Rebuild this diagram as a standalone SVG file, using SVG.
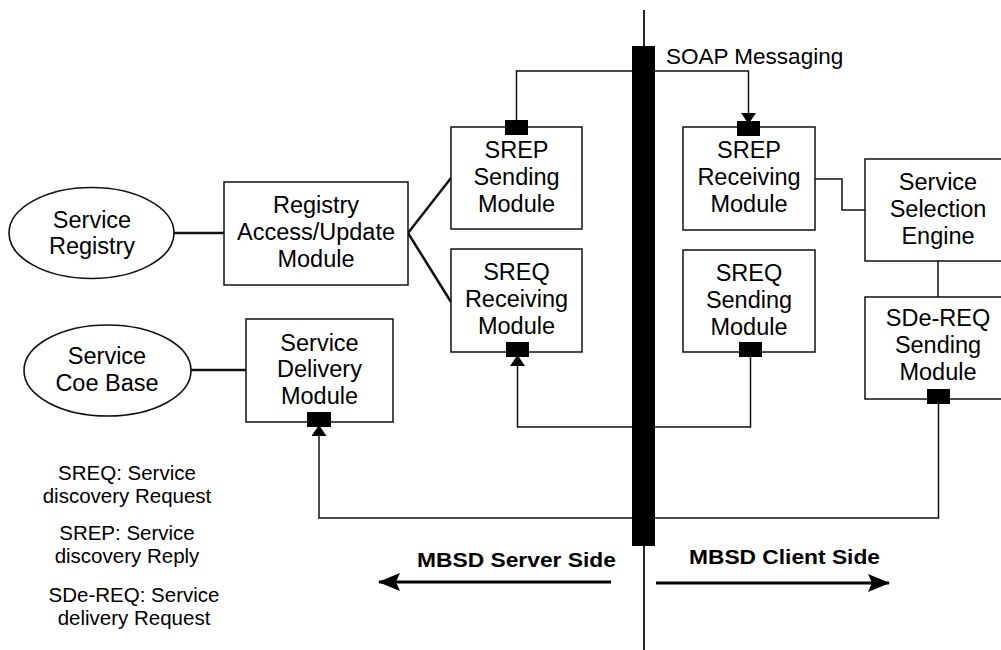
<svg xmlns="http://www.w3.org/2000/svg" width="1001" height="650" viewBox="0 0 1001 650">
  <style>
    .box { fill: #ffffff; stroke: #111; stroke-width: 1.5; }
    .oval { fill: #ffffff; stroke: #111; stroke-width: 1.6; }
    .port { fill: #000; }
    .wire { fill: none; stroke: #111; stroke-width: 1.5; }
    .link { fill: none; stroke: #111; stroke-width: 2.5; }
    .side { fill: none; stroke: #000; stroke-width: 3; }
    text { font-family: "Liberation Sans", Arial, sans-serif; fill: #000; }
    .lbl { font-size: 23.5px; text-anchor: middle; }
    .note { font-size: 20.5px; text-anchor: middle; }
    .bold { font-size: 21px; font-weight: bold; }
  </style>
  <defs>
    <marker id="tip" markerUnits="userSpaceOnUse" viewBox="0 0 11 15" markerWidth="11" markerHeight="15" refX="10" refY="7.5" orient="auto">
      <path d="M0,0 L11,7.5 L0,15 z" fill="#000"/>
    </marker>
    <marker id="bigtip" markerUnits="userSpaceOnUse" viewBox="0 0 22 18" markerWidth="22" markerHeight="18" refX="21" refY="9" orient="auto">
      <path d="M0,0 L22,9 L0,18 L4,9 z" fill="#000"/>
    </marker>
  </defs>

  <!-- connectors -->
  <g id="connectors">
    <line class="link" x1="174" y1="233" x2="224" y2="233"/>
    <line class="link" x1="191" y1="370" x2="246" y2="370"/>
    <line class="link" x1="408" y1="233" x2="451" y2="178"/>
    <line class="link" x1="408" y1="233" x2="451" y2="302"/>
    <path class="wire" d="M516.5,120 V71 H748.5 V123" marker-end="url(#tip)"/>
    <path class="wire" d="M750.5,357 V427 H517.5 V356" marker-end="url(#tip)"/>
    <path class="wire" d="M938.5,404 V518 H319 V426" marker-end="url(#tip)"/>
    <path class="wire" d="M815,179 H842 V210 H865"/>
    <line class="wire" x1="938" y1="261" x2="938" y2="297"/>
  </g>

  <!-- SOAP messaging bus -->
  <g id="soap-bus">
    <line x1="644" y1="10" x2="644" y2="650" stroke="#111" stroke-width="1.8"/>
    <rect x="632" y="46" width="23" height="500" fill="#000"/>
    <text x="666" y="64" font-size="22.5">SOAP Messaging</text>
  </g>

  <g id="service-registry">
    <ellipse class="oval" cx="91.5" cy="233" rx="82.5" ry="45.5"/>
    <text class="lbl" x="92" y="228">Service</text>
    <text class="lbl" x="92" y="254">Registry</text>
  </g>

  <g id="service-code-base">
    <ellipse class="oval" cx="107.5" cy="370.5" rx="83.5" ry="45.5"/>
    <text class="lbl" x="107" y="364">Service</text>
    <text class="lbl" x="107" y="391">Coe Base</text>
  </g>

  <g id="registry-access">
    <rect class="box" x="224" y="182" width="184" height="103"/>
    <text class="lbl" x="316" y="213">Registry</text>
    <text class="lbl" x="316" y="240">Access/Update</text>
    <text class="lbl" x="316" y="267">Module</text>
  </g>

  <g id="service-delivery">
    <rect class="box" x="246" y="319" width="147" height="103"/>
    <text class="lbl" x="319.5" y="351">Service</text>
    <text class="lbl" x="319.5" y="377">Delivery</text>
    <text class="lbl" x="319.5" y="404">Module</text>
    <rect class="port" x="307" y="412" width="24" height="15"/>
  </g>

  <g id="srep-sending">
    <rect class="box" x="451" y="127" width="131" height="102"/>
    <text class="lbl" x="516.5" y="158">SREP</text>
    <text class="lbl" x="516.5" y="185">Sending</text>
    <text class="lbl" x="516.5" y="212">Module</text>
    <rect class="port" x="505" y="120" width="23" height="15"/>
  </g>

  <g id="sreq-receiving">
    <rect class="box" x="451" y="249" width="131" height="103"/>
    <text class="lbl" x="516.5" y="280">SREQ</text>
    <text class="lbl" x="516.5" y="307">Receiving</text>
    <text class="lbl" x="516.5" y="334">Module</text>
    <rect class="port" x="506" y="342" width="23" height="15"/>
  </g>

  <g id="srep-receiving">
    <rect class="box" x="683" y="127" width="132" height="103"/>
    <text class="lbl" x="749" y="158">SREP</text>
    <text class="lbl" x="749" y="185">Receiving</text>
    <text class="lbl" x="749" y="212">Module</text>
    <rect class="port" x="737" y="121" width="23" height="15"/>
  </g>

  <g id="sreq-sending">
    <rect class="box" x="683" y="250" width="132" height="102"/>
    <text class="lbl" x="749" y="281">SREQ</text>
    <text class="lbl" x="749" y="308">Sending</text>
    <text class="lbl" x="749" y="335">Module</text>
    <rect class="port" x="739" y="342" width="23" height="15"/>
  </g>

  <g id="service-selection">
    <rect class="box" x="865" y="159" width="146" height="102"/>
    <text class="lbl" x="938" y="190">Service</text>
    <text class="lbl" x="938" y="217">Selection</text>
    <text class="lbl" x="938" y="244">Engine</text>
  </g>

  <g id="sde-req-sending">
    <rect class="box" x="865" y="297" width="146" height="102"/>
    <text class="lbl" x="938" y="326">SDe-REQ</text>
    <text class="lbl" x="938" y="353">Sending</text>
    <text class="lbl" x="938" y="380">Module</text>
    <rect class="port" x="927" y="389" width="23" height="15"/>
  </g>

  <g id="legend">
    <text class="note" x="127" y="480">SREQ: Service</text>
    <text class="note" x="127" y="503">discovery Request</text>
    <text class="note" x="127" y="540">SREP: Service</text>
    <text class="note" x="127" y="563">discovery Reply</text>
    <text class="note" x="134" y="602">SDe-REQ: Service</text>
    <text class="note" x="134" y="625">delivery Request</text>
  </g>

  <g id="sides">
    <text class="bold" x="417" y="567" textLength="199" lengthAdjust="spacingAndGlyphs">MBSD Server Side</text>
    <text class="bold" x="689" y="564" textLength="191" lengthAdjust="spacingAndGlyphs">MBSD Client Side</text>
    <line class="side" x1="611" y1="582" x2="379" y2="582" marker-end="url(#bigtip)"/>
    <line class="side" x1="656" y1="583" x2="889" y2="583" marker-end="url(#bigtip)"/>
  </g>
</svg>
